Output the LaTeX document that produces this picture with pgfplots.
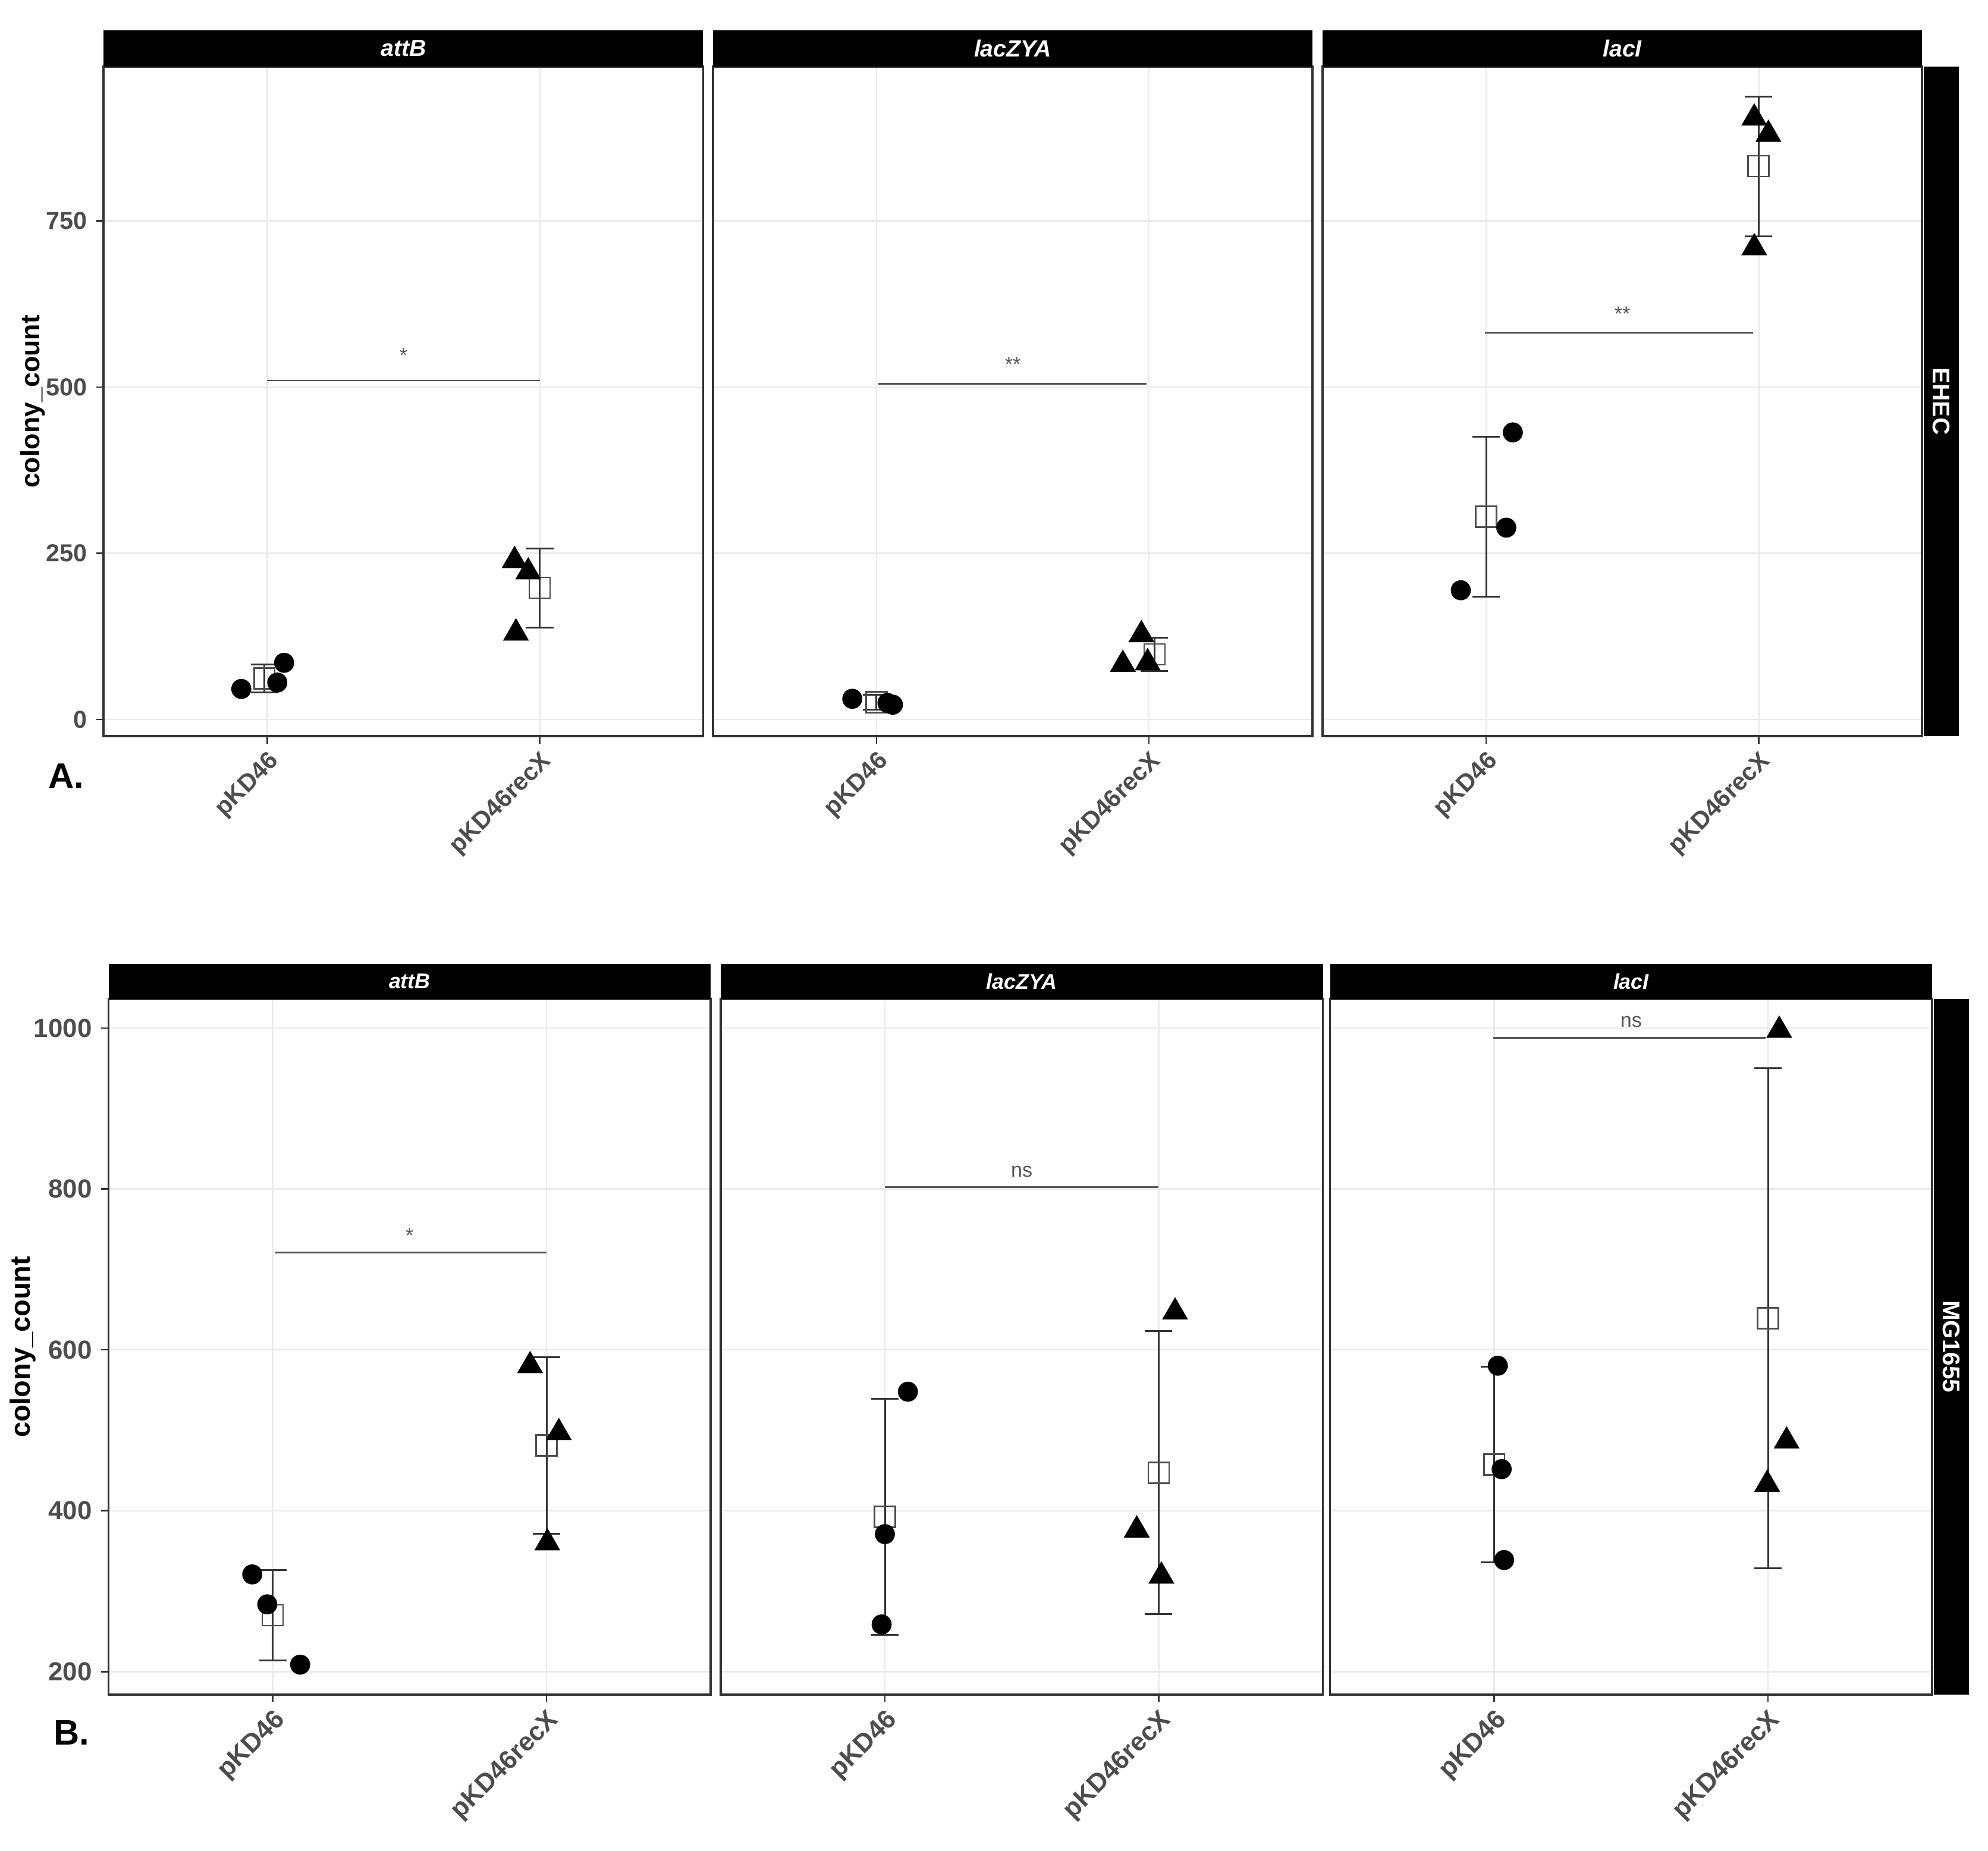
\documentclass[border=0pt]{standalone}
\usepackage{pgfplots}
\pgfplotsset{compat=1.18}
\usepackage{fontspec}
\setmainfont{Liberation Sans}

\definecolor{gray20}{RGB}{51,51,51}
\definecolor{gray30}{RGB}{77,77,77}
\definecolor{grid92}{RGB}{235,235,235}
\definecolor{sigc}{RGB}{85,85,85}

\pgfplotsset{
  panel/.style={
    scale only axis,
    anchor=north west,
    xmin=0.4, xmax=2.6,
    xtick={1,2},
    xticklabels={pKD46, pKD46recX},
    xticklabel style={rotate=45, anchor=north east, text=gray30, inner sep=1.5pt},
    yticklabel style={text=gray30},
    /pgf/number format/assume math mode=true,
    /pgf/number format/1000 sep={},
    tick align=outside,
    major tick length=3pt,
    xtick pos=left, ytick pos=left,
    tick style={gray20, line width=0.6pt},
    grid=major,
    grid style={grid92, line width=0.6pt},
    axis line style={gray20, line width=0.9pt},
    clip=false,
  },
  toprow/.style={panel, width=236.4pt, height=264.1pt, ymin=-25, ymax=982,
    ytick={0,250,500,750},
    ticklabel style={font=\fontsize{9.7}{10}\selectfont\bfseries}},
  botrow/.style={panel, width=237.5pt, height=274.3pt, ymin=171.6, ymax=1036.3,
    ytick={200,400,600,800,1000},
    ticklabel style={font=\fontsize{10.3}{11}\selectfont\bfseries}},
  noylab/.style={yticklabels={}, ytick style={draw=none}},
  circ/.style={only marks, mark=*, mark size=3.75pt, mark options={fill=black, draw=black}},
  tri/.style={only marks, mark=triangle*, mark size=5.5pt, mark options={fill=black, draw=black}},
  msq/.style={only marks, mark=square, mark size=4.1pt,
    mark options={draw=gray30, line width=0.6pt},
    error bars/.cd, y dir=both, y explicit,
    error bar style={gray20, line width=0.7pt},
    error mark options={rotate=90, mark size=5.4pt, gray20, line width=0.7pt}},
  sig/.style={sigc, line width=0.7pt},
}

\newcommand{\striptop}[1]{%
  \fill[black] (rel axis cs:0,1) rectangle ([yshift=14.2pt]rel axis cs:1,1);
  \node[text=white, font=\fontsize{9.2}{10}\selectfont\bfseries\itshape]
    at ([yshift=7.1pt]rel axis cs:0.5,1) {#1};}
\newcommand{\stripbot}[1]{%
  \fill[black] (rel axis cs:0,1) rectangle ([yshift=13.8pt]rel axis cs:1,1);
  \node[text=white, font=\fontsize{8.4}{9}\selectfont\bfseries\itshape]
    at ([yshift=6.9pt]rel axis cs:0.5,1) {#1};}
\newcommand{\stripright}[1]{%
  \fill[black] ([xshift=0.6pt]rel axis cs:1,0) rectangle ([xshift=14.5pt]rel axis cs:1,1);
  \node[rotate=-90, text=white, font=\fontsize{9.5}{10}\selectfont\bfseries]
    at ([xshift=7.6pt]rel axis cs:1,0.5) {#1};}

\begin{document}
\begin{tikzpicture}
\path (0,0) rectangle (784pt,-730pt);

% ---------------- A. EHEC ----------------
\begin{axis}[toprow, at={(40.9pt,-26.25pt)}]
  \addplot[msq] coordinates {(0.99,61.6) +- (0,21.1) (2.0,198) +- (0,59.3)};
  \addplot[circ] coordinates {(0.905,46) (1.037,55.6) (1.062,85.3)};
  \addplot[tri] coordinates {(1.908,239) (1.958,222) (1.913,130)};
  \addplot[sig] coordinates {(1.0,509.8) (2.0,509.8)};
  \node[anchor=base, sigc, font=\fontsize{8}{9}\selectfont] at (axis cs:1.5,537) {*};
  \striptop{attB}
\end{axis}

\begin{axis}[toprow, noylab, at={(281.2pt,-26.25pt)}]
  \addplot[msq] coordinates {(1.0,26) +- (0,11) (2.02,98) +- (0,25)};
  \addplot[circ] coordinates {(0.911,31.2) (1.06,22.3) (1.04,25)};
  \addplot[tri] coordinates {(1.972,127.6) (1.904,83) (1.995,85.3)};
  \addplot[sig] coordinates {(1.006,505) (1.99,505)};
  \node[anchor=base, sigc, font=\fontsize{8}{9}\selectfont] at (axis cs:1.5,524) {**};
  \striptop{lacZYA}
\end{axis}

\begin{axis}[toprow, noylab, at={(521.6pt,-26.25pt)}]
  \addplot[msq] coordinates {(1.0,305) +- (0,120.5) (2.0,832) +- (0,105)};
  \addplot[circ] coordinates {(1.098,431.8) (1.074,288.6) (0.907,194.4)};
  \addplot[tri] coordinates {(1.984,904.5) (2.036,880) (1.984,709.4)};
  \addplot[sig] coordinates {(0.995,582) (1.98,582)};
  \node[anchor=base, sigc, font=\fontsize{8}{9}\selectfont] at (axis cs:1.5,599.5) {**};
  \striptop{lacI}
  \stripright{EHEC}
\end{axis}

% ---------------- B. MG1655 ----------------
\begin{axis}[botrow, at={(42.8pt,-394pt)}]
  \addplot[msq] coordinates {(1.0,270) +- (0,56) (2.0,481) +- (0,110)};
  \addplot[circ] coordinates {(0.925,320.8) (0.98,283.6) (1.1,208.6)};
  \addplot[tri] coordinates {(1.94,580.3) (2.045,497) (2.003,360)};
  \addplot[sig] coordinates {(1.008,721) (2.0,721)};
  \node[anchor=base, sigc, font=\fontsize{8}{9}\selectfont] at (axis cs:1.5,733.5) {*};
  \stripbot{attB}
\end{axis}

\begin{axis}[botrow, noylab, at={(284.2pt,-394pt)}]
  \addplot[msq] coordinates {(1.0,392.5) +- (0,147) (2.0,447.3) +- (0,175.8)};
  \addplot[circ] coordinates {(1.084,548) (1.0,370.9) (0.988,258.6)};
  \addplot[tri] coordinates {(2.06,647) (1.92,376) (2.01,318.7)};
  \addplot[sig] coordinates {(1.0,802) (2.0,802)};
  \node[anchor=base, sigc, font=\fontsize{8}{9}\selectfont] at (axis cs:1.5,815) {ns};
  \stripbot{lacZYA}
\end{axis}

\begin{axis}[botrow, noylab, at={(524.5pt,-394pt)}]
  \addplot[msq] coordinates {(1.0,457.4) +- (0,121.6) (2.0,639.4) +- (0,310.6)};
  \addplot[circ] coordinates {(1.013,580.3) (1.027,451.7) (1.036,338.7)};
  \addplot[tri] coordinates {(2.041,997.3) (2.068,486.6) (1.997,432.9)};
  \addplot[sig] coordinates {(0.997,987.8) (1.992,987.8)};
  \node[anchor=base, sigc, font=\fontsize{8}{9}\selectfont] at (axis cs:1.5,1001) {ns};
  \stripbot{lacI}
  \stripright{MG1655}
\end{axis}

% axis titles and panel letters
\node[rotate=90, font=\fontsize{10.5}{11}\selectfont\bfseries] at (12.9pt,-158.4pt) {colony\_count};
\node[rotate=90, font=\fontsize{11}{12}\selectfont\bfseries] at (9pt,-531.3pt) {colony\_count};
\node[font=\fontsize{14}{15}\selectfont\bfseries] at (26pt,-306pt) {A.};
\node[font=\fontsize{14}{15}\selectfont\bfseries] at (28.3pt,-683.4pt) {B.};
\end{tikzpicture}
\end{document}
